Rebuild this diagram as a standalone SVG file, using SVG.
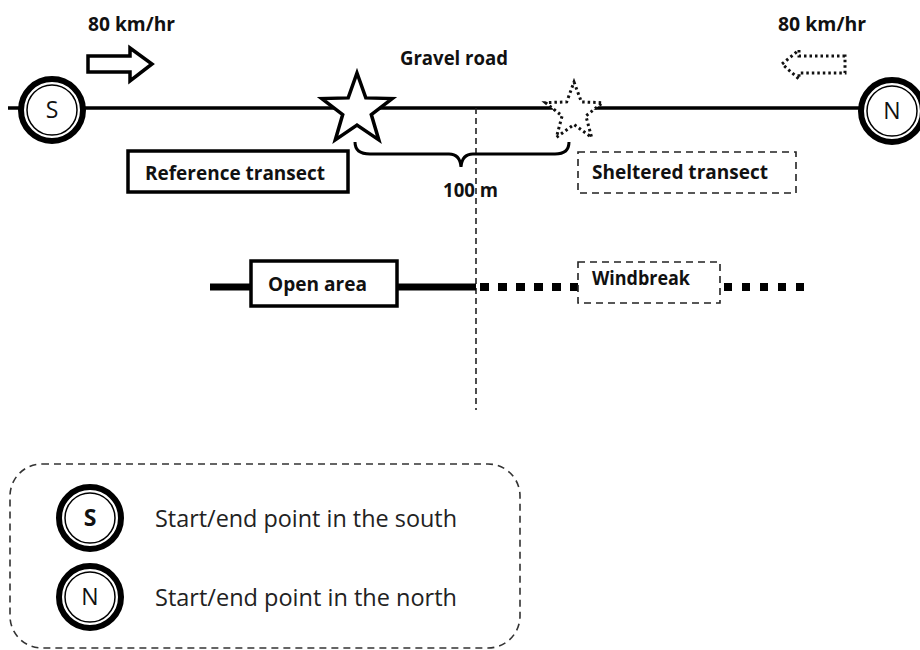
<svg xmlns="http://www.w3.org/2000/svg" width="920" height="650" viewBox="0 0 920 650">
<style>
.lbl{font-family:"Open Sans","Liberation Sans",sans-serif;font-weight:700;font-size:19px;fill:#111}
.leg{font-family:"Open Sans","Liberation Sans",sans-serif;font-weight:400;font-size:24px;fill:#222}
.cl{font-family:"Open Sans","Liberation Sans",sans-serif;font-size:23px;fill:#111;text-anchor:middle}
.outer{fill:#fff;stroke:#000;stroke-width:6}
.inner{fill:none;stroke:#000;stroke-width:1.5}
.solid{fill:#fff;stroke:#000;stroke-width:3.5;stroke-linejoin:miter}
.dotted{fill:#fff;stroke:#111;stroke-width:3;stroke-dasharray:2.5 3}
.dashbox{fill:#fff;stroke:#222;stroke-width:1.6;stroke-dasharray:7 5}
</style>
<rect width="920" height="650" fill="#fff"/>
<g id="connectors">
  <line id="road" x1="8" y1="108" x2="862" y2="108" stroke="#000" stroke-width="3.5"/>
  <line id="divider" x1="476" y1="108" x2="476" y2="410" stroke="#222" stroke-width="1.6" stroke-dasharray="6 4"/>
  <line id="open-line" x1="210" y1="287" x2="476" y2="287" stroke="#000" stroke-width="7"/>
  <line id="wb-line1" x1="480" y1="287" x2="580" y2="287" stroke="#000" stroke-width="8" stroke-dasharray="9 9"/>
  <line id="wb-line2" x1="724" y1="287" x2="806" y2="287" stroke="#000" stroke-width="8" stroke-dasharray="8 10"/>
  <path id="brace" d="M355,142 Q355,154 370,154 L449,154 Q460,154 461,167 Q462,154 473,154 L555,154 Q569,154 569,142" fill="none" stroke="#000" stroke-width="3"/>
</g>
<g id="arrow-south">
  <polygon class="solid" points="88,56 130,56 130,48 152,64 130,81 130,72 88,72"/>
  <text class="lbl" x="88" y="31" textLength="87" lengthAdjust="spacingAndGlyphs">80 km/hr</text>
</g>
<g id="arrow-north">
  <polygon class="dotted" points="845,56 799,56 799,50 782,64 799,79 799,73 845,73"/>
  <text class="lbl" x="778" y="31" textLength="88" lengthAdjust="spacingAndGlyphs">80 km/hr</text>
</g>
<g id="gravel-road">
  <text class="lbl" x="400" y="65" textLength="108" lengthAdjust="spacingAndGlyphs">Gravel road</text>
</g>
<g id="node-S">
  <circle class="outer" cx="52" cy="110" r="31"/>
  <circle class="inner" cx="52" cy="110" r="25"/>
  <text class="cl" x="52" y="118">S</text>
</g>
<g id="node-N">
  <circle class="outer" cx="892" cy="111" r="31"/>
  <circle class="inner" cx="892" cy="111" r="25"/>
  <text class="cl" x="892" y="119">N</text>
</g>
<g id="star-reference">
  <polygon class="solid" points="357,73 365.8,97.9 392.2,98.6 371.3,114.6 378.8,139.9 357,125 335.3,139.9 342.7,114.6 321.8,98.6 348.2,97.9"/>
</g>
<g id="star-sheltered">
  <polygon class="dotted" points="574,82 581.4,101.9 602.5,102.7 585.9,115.9 591.6,137.3 574,124.5 556.4,137.3 562.1,115.9 545.5,102.7 566.7,101.9"/>
</g>
<g id="reference-transect">
  <rect x="128" y="151" width="220" height="41" fill="#fff" stroke="#000" stroke-width="3.5"/>
  <text class="lbl" x="145" y="180" textLength="180" lengthAdjust="spacingAndGlyphs">Reference transect</text>
</g>
<g id="sheltered-transect">
  <rect class="dashbox" x="578" y="152" width="218" height="41"/>
  <text class="lbl" x="592" y="179" textLength="176" lengthAdjust="spacingAndGlyphs">Sheltered transect</text>
</g>
<g id="distance">
  <text class="lbl" x="443" y="197" textLength="55" lengthAdjust="spacingAndGlyphs">100 m</text>
</g>
<g id="open-area">
  <rect x="251" y="261" width="146" height="45" fill="#fff" stroke="#000" stroke-width="3.5"/>
  <text class="lbl" x="268" y="291" textLength="99" lengthAdjust="spacingAndGlyphs">Open area</text>
</g>
<g id="windbreak">
  <rect class="dashbox" x="578" y="262" width="142" height="41"/>
  <text class="lbl" x="592" y="285" textLength="98" lengthAdjust="spacingAndGlyphs">Windbreak</text>
</g>
<g id="legend">
  <rect x="10" y="464" width="510" height="184" rx="32" ry="32" fill="none" stroke="#333" stroke-width="1.6" stroke-dasharray="7 5"/>
  <g id="legend-S">
    <circle class="outer" cx="90" cy="518" r="31"/>
    <circle class="inner" cx="90" cy="518" r="25"/>
    <text class="cl" x="90" y="526" font-weight="700">S</text>
    <text class="leg" x="155" y="527" textLength="302" lengthAdjust="spacingAndGlyphs">Start/end point in the south</text>
  </g>
  <g id="legend-N">
    <circle class="outer" cx="90" cy="597" r="31"/>
    <circle class="inner" cx="90" cy="597" r="25"/>
    <text class="cl" x="90" y="605">N</text>
    <text class="leg" x="155" y="606" textLength="302" lengthAdjust="spacingAndGlyphs">Start/end point in the north</text>
  </g>
</g>
</svg>
